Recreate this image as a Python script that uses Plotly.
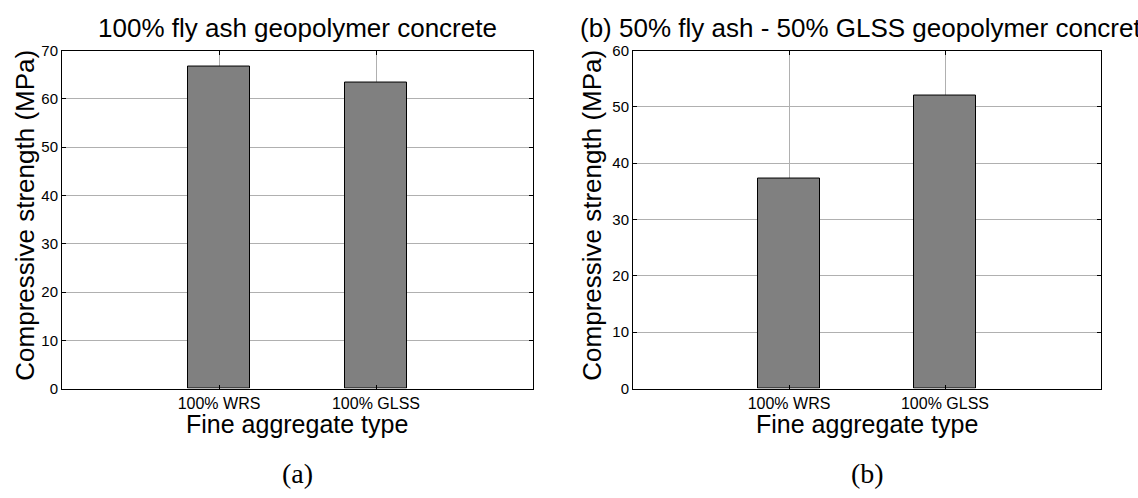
import plotly.graph_objects as go

categories = ["100% WRS", "100% GLSS"]
strength_a = [66.7, 63.3]
strength_b = [37.2, 52.0]
yticks_a = [0, 10, 20, 30, 40, 50, 60, 70]
yticks_b = [0, 10, 20, 30, 40, 50, 60]
title_a = "100% fly ash geopolymer concrete"
title_b = "(b) 50% fly ash - 50% GLSS geopolymer concrete"
xlabel = "Fine aggregate type"
ylabel = "Compressive strength (MPa)"
panel_labels = ["(a)", "(b)"]

W, H = 1138, 498
FONT = "Liberation Sans, Arial, sans-serif"
xpos = [1, 2]

fig = go.Figure()
for i, vals in enumerate([strength_a, strength_b]):
    ax = "" if i == 0 else "2"
    fig.add_trace(go.Bar(
        x=xpos, y=vals, width=0.4,
        marker=dict(color="#808080", line=dict(color="black", width=1)),
        xaxis="x" + ax, yaxis="y" + ax, showlegend=False,
    ))

# pixel geometry
pa = (62, 533)
pb = (633, 1101)
top, bot = 43, 393
ydom = [1 - bot / H, 1 - top / H]

common_x = dict(
    range=[0, 3], tickvals=xpos, ticktext=categories,
    showline=True, mirror="ticks", linecolor="black", linewidth=1,
    ticks="inside", ticklen=4, tickcolor="black",
    showgrid=True, gridcolor="#b0b0b0", gridwidth=1,
    tickfont=dict(family=FONT, size=16, color="black"),
    zeroline=False, fixedrange=True,
)
common_y = dict(
    showline=True, mirror="ticks", linecolor="black", linewidth=1,
    ticks="inside", ticklen=4, tickcolor="black",
    showgrid=True, gridcolor="#b0b0b0", gridwidth=1,
    tickfont=dict(family=FONT, size=15, color="black"),
    zeroline=False, fixedrange=True, ticklabelstandoff=0,
)

fig.update_layout(
    width=W, height=H,
    margin=dict(l=0, r=0, t=0, b=0),
    paper_bgcolor="white", plot_bgcolor="white",
    bargap=0,
    xaxis=dict(domain=[pa[0] / W, pa[1] / W], anchor="y", **common_x),
    yaxis=dict(domain=ydom, anchor="x", range=[0, 70], tickvals=yticks_a, **common_y),
    xaxis2=dict(domain=[pb[0] / W, pb[1] / W], anchor="y2", **common_x),
    yaxis2=dict(domain=ydom, anchor="x2", range=[0, 60], tickvals=yticks_b, **common_y),
)

ann = []
for (x0, x1), t, pl, yx in [(pa, title_a, panel_labels[0], 25), (pb, title_b, panel_labels[1], 592)]:
    cx = (x0 + x1) / 2 / W
    ann.append(dict(text=t, x=cx, y=1 - 20 / H, xref="paper", yref="paper",
                    showarrow=False, xanchor="center", yanchor="middle",
                    font=dict(family=FONT, size=26, color="black")))
    ann.append(dict(text=xlabel, x=cx, y=1 - 430 / H, xref="paper", yref="paper",
                    showarrow=False, xanchor="center", yanchor="middle",
                    font=dict(family=FONT, size=25, color="black")))
    ann.append(dict(text=ylabel, x=yx / W, y=1 - 214 / H, xref="paper", yref="paper",
                    showarrow=False, xanchor="center", yanchor="middle", textangle=-90,
                    font=dict(family=FONT, size=26, color="black")))
    ann.append(dict(text=pl, x=cx, y=1 - 481 / H, xref="paper", yref="paper",
                    showarrow=False, xanchor="center", yanchor="middle",
                    font=dict(family="Liberation Serif, Times New Roman, serif", size=28, color="black")))
fig.update_layout(annotations=ann)

fig.write_html("out.html")
